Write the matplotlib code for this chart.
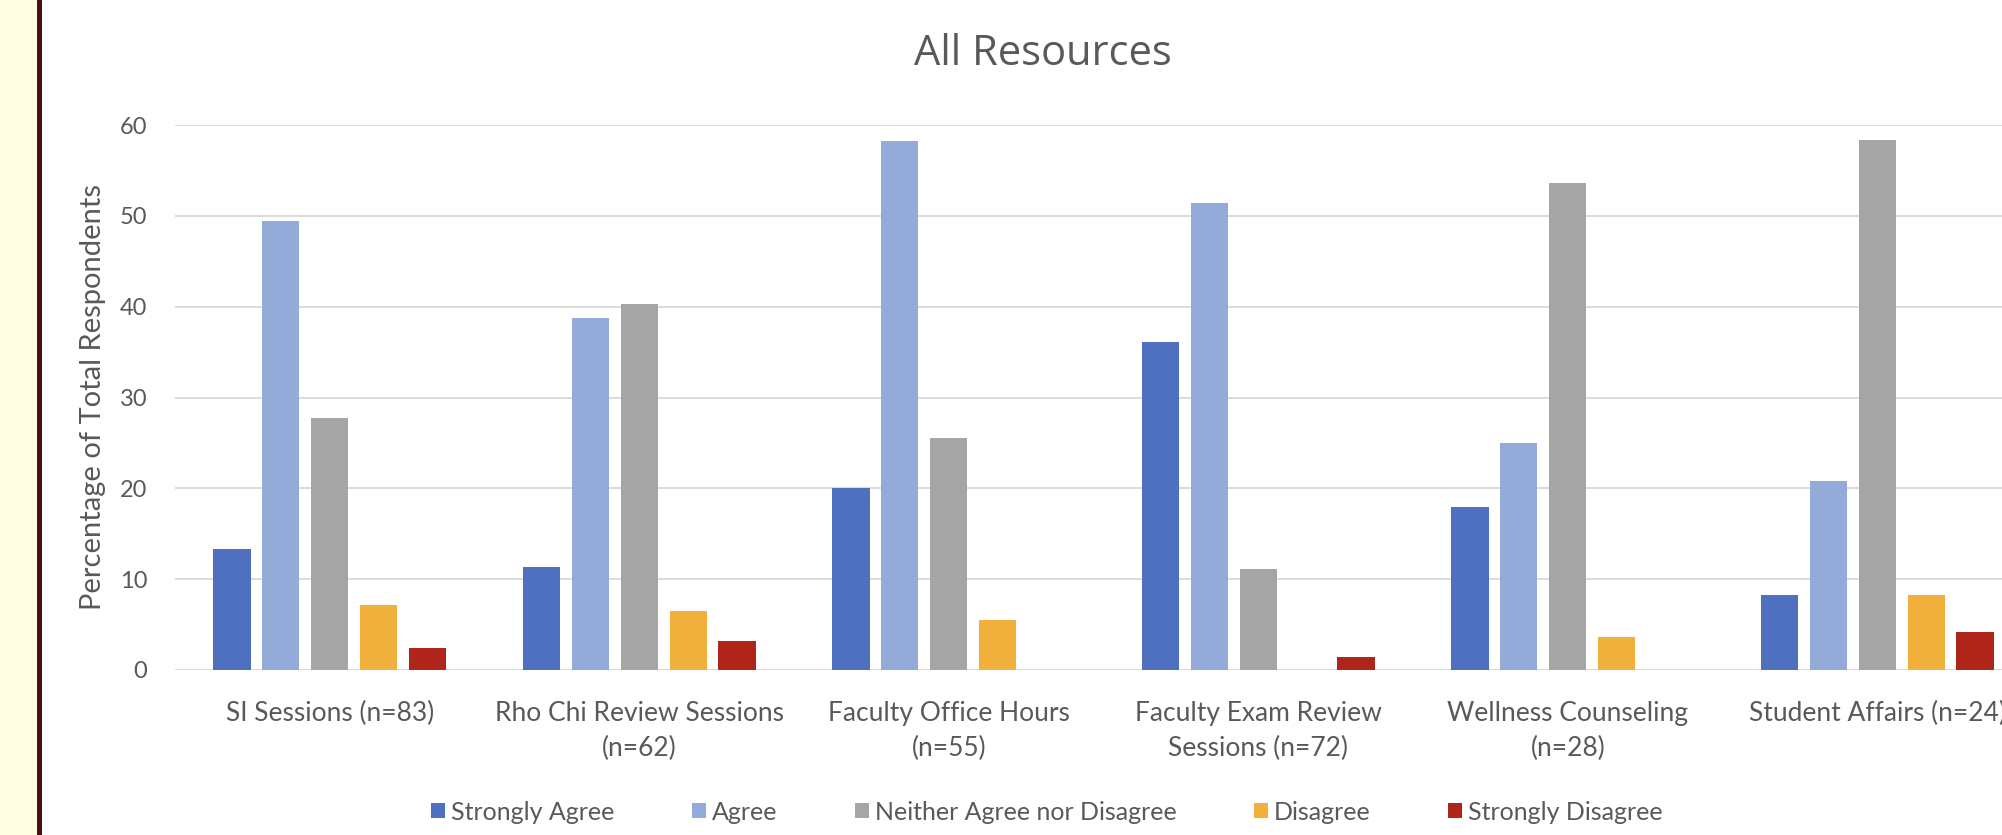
import matplotlib.pyplot as plt
import numpy as np
from matplotlib.patches import Rectangle

plt.rcParams["font.family"] = ["Lato", "DejaVu Sans"]

RESOURCES = [
    "SI Sessions (n=83)",
    "Rho Chi Review Sessions\n(n=62)",
    "Faculty Office Hours\n(n=55)",
    "Faculty Exam Review\nSessions (n=72)",
    "Wellness Counseling\n(n=28)",
    "Student Affairs (n=24)",
]
RESPONSES = ["Strongly Agree", "Agree", "Neither Agree nor Disagree",
             "Disagree", "Strongly Disagree"]

# % of respondents per resource, one list per response
strongly_agree = [13.3, 11.3, 20.0, 36.1, 17.9, 8.3]
agree = [49.4, 38.7, 58.2, 51.4, 25.0, 20.8]
neither = [27.7, 40.3, 25.5, 11.1, 53.6, 58.3]
disagree = [7.2, 6.5, 5.5, 0.0, 3.6, 8.3]
strongly_disagree = [2.4, 3.2, 0.0, 1.4, 0.0, 4.2]

COLORS = ["#4E70BE", "#94AAD8", "#A5A5A5", "#F1AF3B", "#B0251A"]
TEXT = "#595959"

series = [strongly_agree, agree, neither, disagree, strongly_disagree]

fig = plt.figure(figsize=(20.02, 8.35), dpi=100)

# yellow side strip with a maroon border on the left edge
fig.patches.append(Rectangle((0, 0), 37 / 2002, 1, transform=fig.transFigure,
                             facecolor="#FFFDE4", edgecolor="none", zorder=0))
fig.patches.append(Rectangle((37 / 2002, 0), 5 / 2002, 1, transform=fig.transFigure,
                             facecolor="#4A0F10", edgecolor="none", zorder=0))

# plot area runs past the right edge of the figure
ax = fig.add_axes([175 / 2002, 165 / 835, 1857 / 2002, 545 / 835])

x = np.arange(len(RESOURCES))
step, width = 0.158, 0.12
for i, (vals, col, lab) in enumerate(zip(series, COLORS, RESPONSES)):
    ax.bar(x + (i - 2) * step, vals, width, color=col, label=lab, zorder=3)

ax.set_xlim(-0.5, len(RESOURCES) - 0.5)
ax.set_ylim(0, 60)
ax.set_yticks(range(0, 61, 10))
ax.grid(axis="y", color="#D9D9D9", lw=1.3, zorder=0)
for s in ax.spines.values():
    s.set_visible(False)
ax.tick_params(length=0, colors=TEXT)
ax.tick_params(axis="y", labelsize=17, pad=20)
ax.tick_params(axis="x", pad=22)
ax.set_xticks(x, RESOURCES, fontsize=19, color=TEXT, linespacing=1.5)

ax.set_ylabel("Percentage of Total Respondents", fontsize=21, color=TEXT, labelpad=10)

fig.text(1043 / 2002, 1 - 54 / 835, "All Resources", ha="center", va="center",
         fontsize=30, color=TEXT, family=["Open Sans", "DejaVu Sans"])

fig.legend(loc="center", bbox_to_anchor=(1047 / 2002, 1 - 812 / 835), ncol=5,
           frameon=False, fontsize=18, labelcolor=TEXT, handlelength=0.55,
           handleheight=0.55, handletextpad=0.25, columnspacing=3.1)

fig.savefig("out.png", dpi=100)
